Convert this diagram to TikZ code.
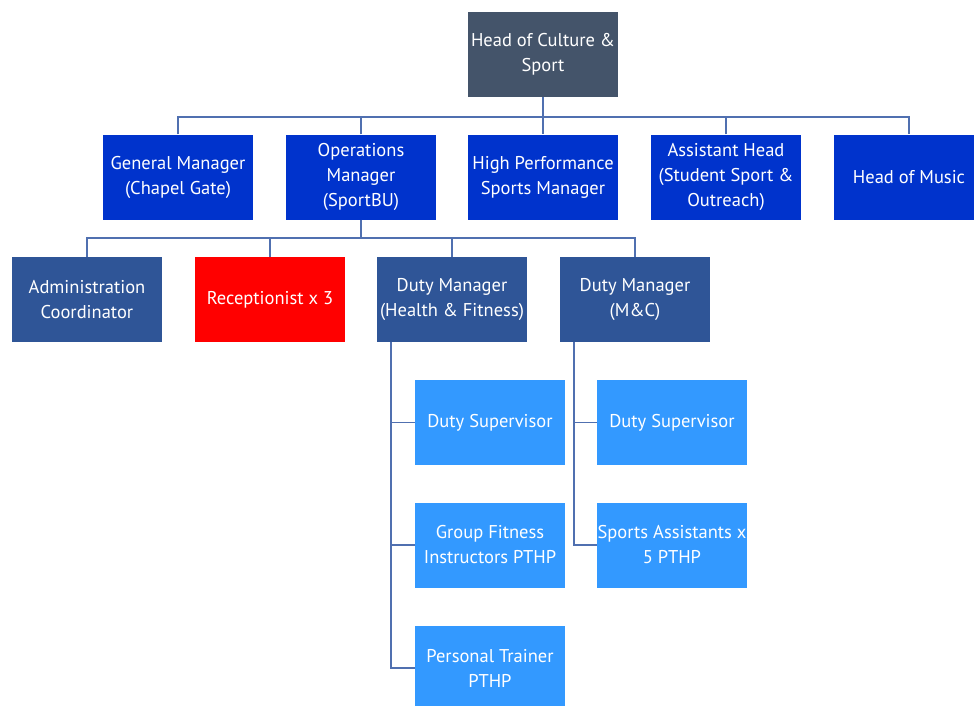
\documentclass[tikz,border=0pt]{standalone}
\usepackage{fontspec}
\setmainfont{PT Sans}
\definecolor{headc}{RGB}{68,84,106}
\definecolor{bluec}{RGB}{0,51,204}
\definecolor{midc}{RGB}{47,85,151}
\definecolor{redc}{RGB}{255,0,0}
\definecolor{lightc}{RGB}{51,153,255}
\definecolor{linec}{RGB}{80,112,176}
\begin{document}
\begin{tikzpicture}[x=1pt,y=-1pt,
  box/.style={rectangle,minimum width=150pt,minimum height=85pt,inner sep=0pt,
    text=white,align=center,font=\fontsize{18.5}{25}\selectfont},
  conn/.style={draw=linec,line width=1.2pt}]
\useasboundingbox (0,0) rectangle (974,705);
\clip (0,0) rectangle (974,705);
\fill[white] (0,0) rectangle (974,705);
% level 1
\node[box,fill=headc] (head) at (543,54.5) {Head of Culture \&\\Sport};
% level 2
\node[box,fill=bluec] (gm) at (178,177) {General Manager\\(Chapel Gate)};
\node[box,fill=bluec] (om) at (361,177) {Operations\\Manager\\(SportBU)};
\node[box,fill=bluec] (hp) at (543,177) {High Performance\\Sports Manager};
\node[box,fill=bluec] (ah) at (726,177) {Assistant Head\\(Student Sport \&\\Outreach)};
\node[box,fill=bluec] (hm) at (909,177) {Head of Music};
% level 3
\node[box,fill=midc] (ac) at (87,299.5) {Administration\\Coordinator};
\node[box,fill=redc] (rc) at (270,299.5) {Receptionist x 3};
\node[box,fill=midc] (dh) at (452,299.5) {Duty Manager\\(Health \& Fitness)};
\node[box,fill=midc] (dm) at (635,299.5) {Duty Manager\\(M\&C)};
% level 4
\node[box,fill=lightc] (ds1) at (490,422.5) {Duty Supervisor};
\node[box,fill=lightc] (gf) at (490,545) {Group Fitness\\Instructors PTHP};
\node[box,fill=lightc] (pt) at (490,668) {Personal Trainer\\PTHP};
\node[box,fill=lightc] (ds2) at (672,422.5) {Duty Supervisor};
\node[box,fill=lightc] (sa) at (672,545) {Sports Assistants x\\5 PTHP};
% connectors level 1-2
\coordinate (b1) at (543,117);
\draw[conn] (head.south) -- (hp.north);
\draw[conn] (gm.north) |- (b1) -| (hm.north);
\draw[conn] (om.north) -- (om.north |- b1);
\draw[conn] (ah.north) -- (ah.north |- b1);
% connectors level 2-3
\coordinate (b2) at (361,238);
\draw[conn] (om.south) -- (b2);
\draw[conn] (ac.north) |- (b2) -| (dm.north);
\draw[conn] (rc.north) -- (rc.north |- b2);
\draw[conn] (dh.north) -- (dh.north |- b2);
% connectors level 3-4
\coordinate (v1) at (391,342);
\coordinate (v2) at (574,342);
\draw[conn] (v1) |- (pt.west);
\draw[conn] (v1 |- ds1.west) -- (ds1.west);
\draw[conn] (v1 |- gf.west) -- (gf.west);
\draw[conn] (v2) |- (sa.west);
\draw[conn] (v2 |- ds2.west) -- (ds2.west);
\end{tikzpicture}
\end{document}
